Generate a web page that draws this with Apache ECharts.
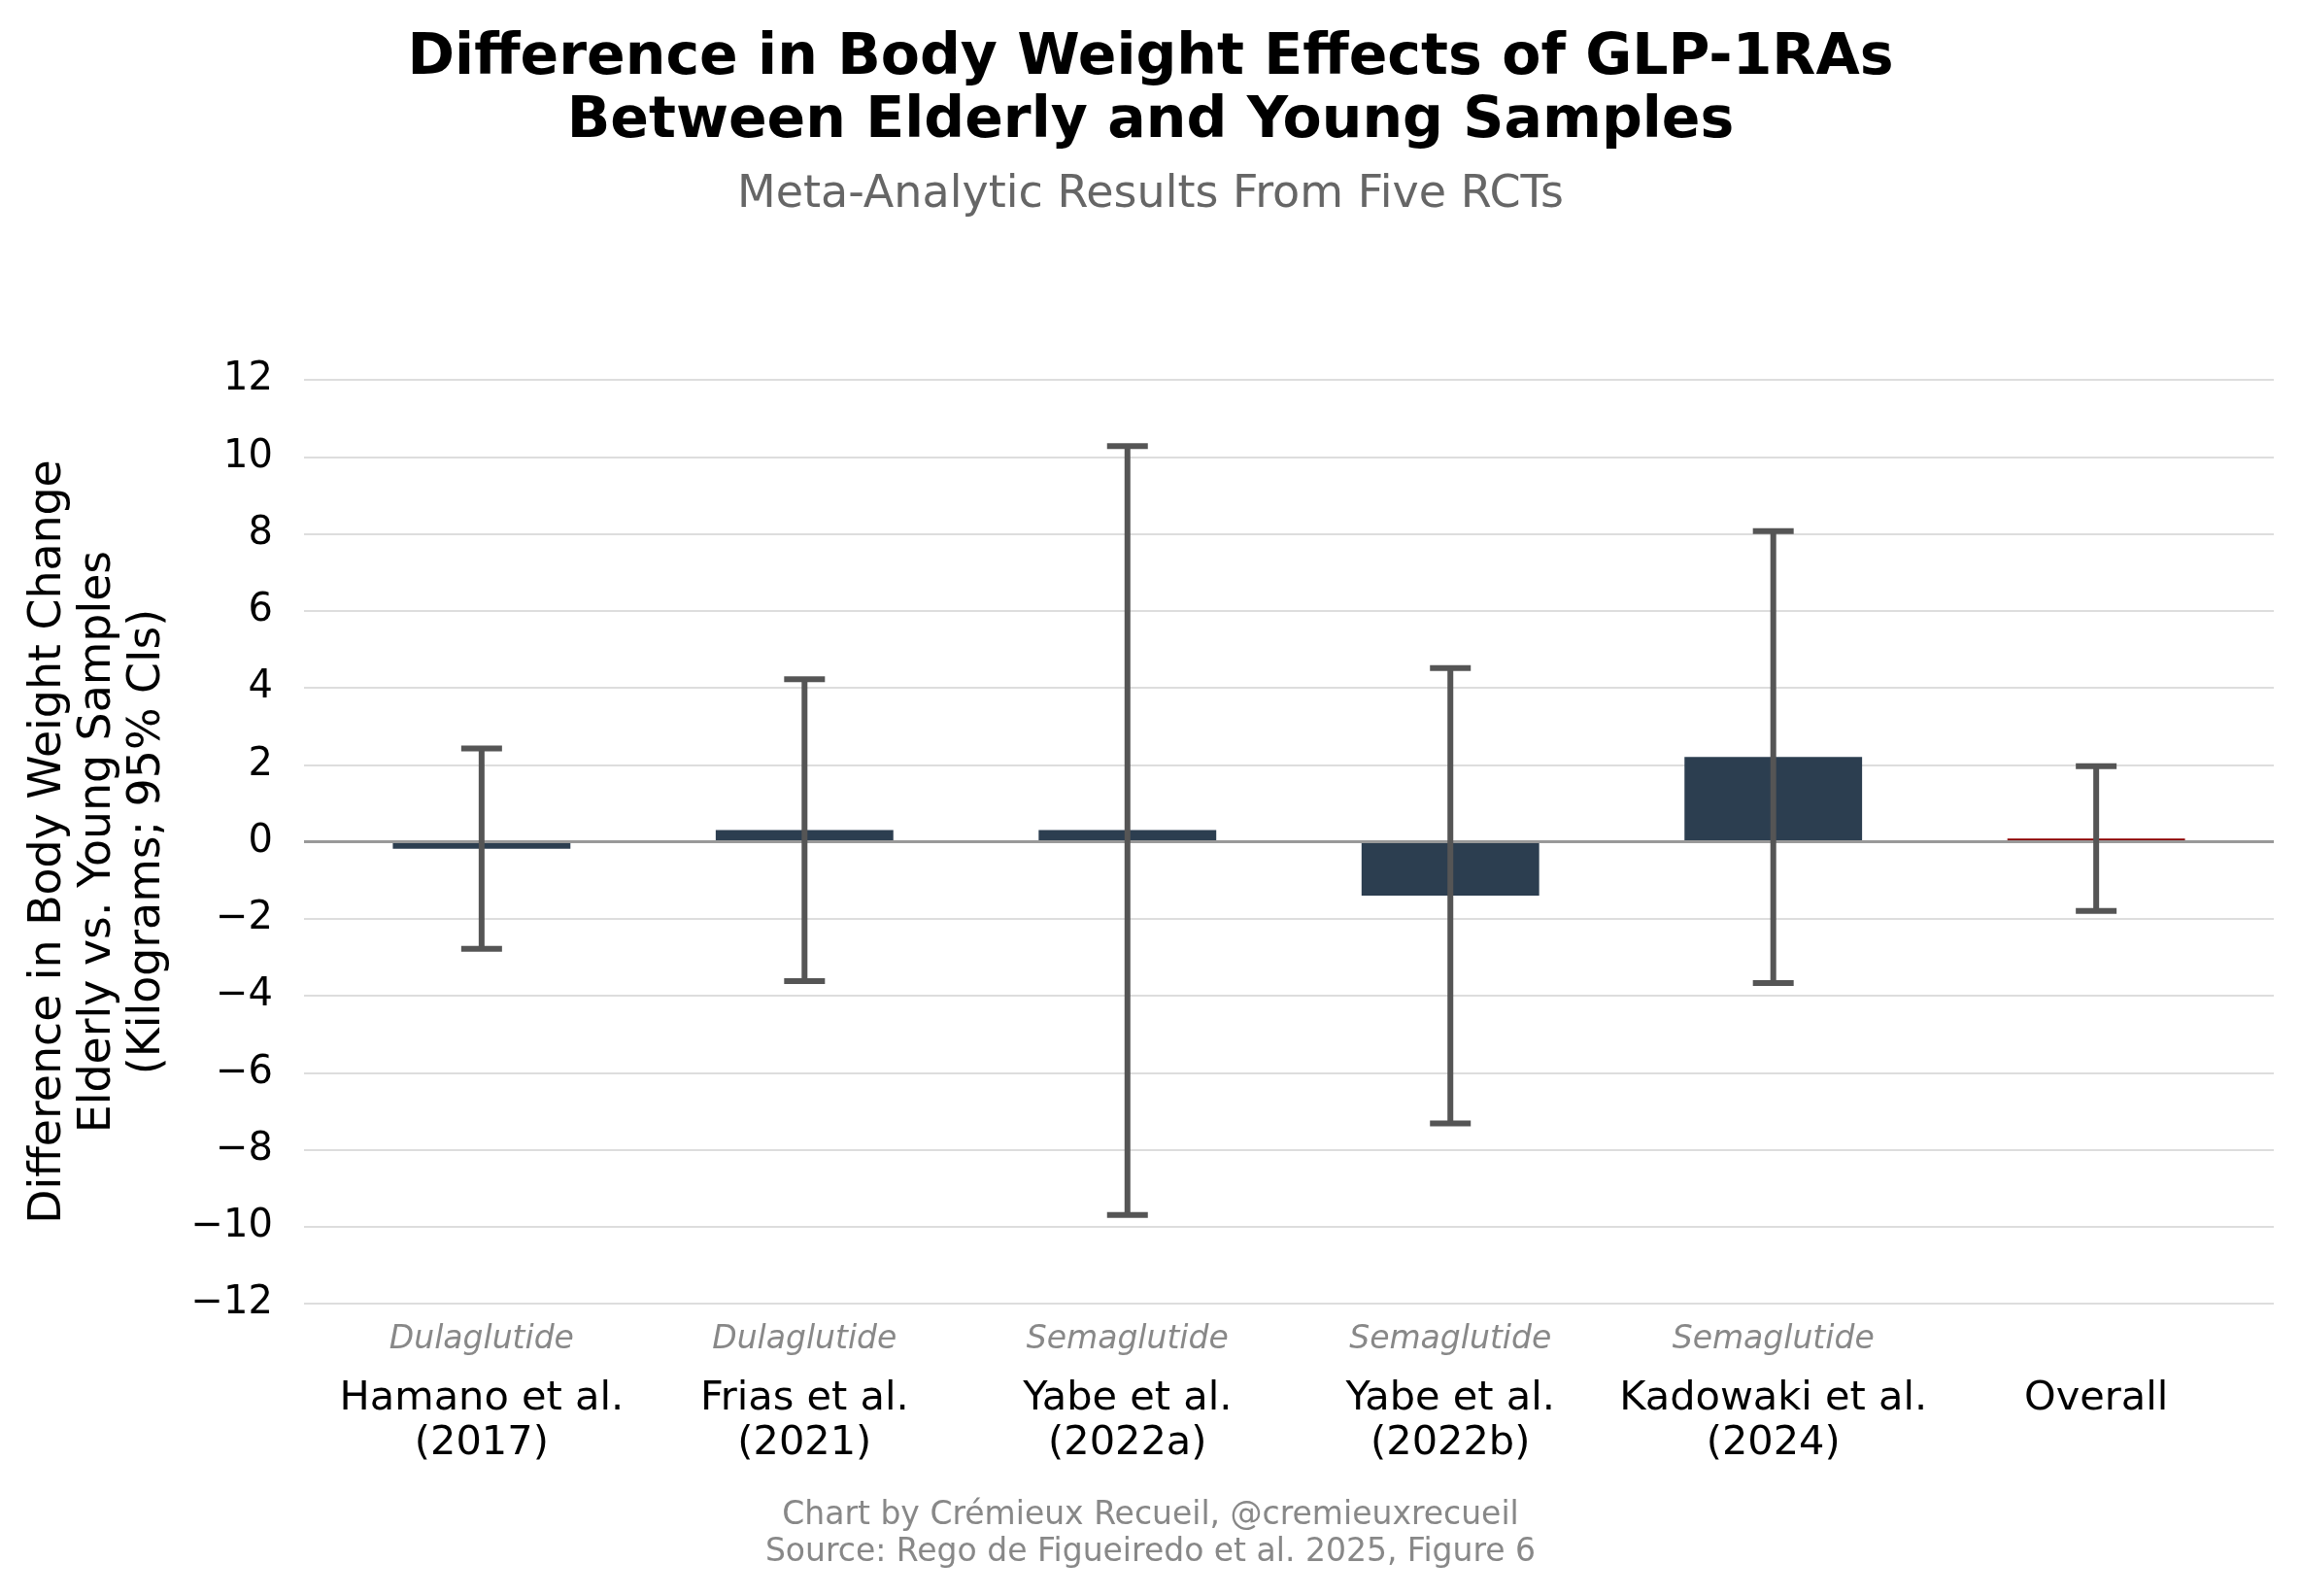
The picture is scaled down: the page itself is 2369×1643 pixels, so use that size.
<!DOCTYPE html>
<html>
<head>
<meta charset="utf-8">
<script src="https://cdn.jsdelivr.net/npm/echarts@6/dist/echarts.min.js"></script>
<style>
html,body{margin:0;padding:0;background:#fff;}
#chart{width:2369px;height:1643px;}
</style>
</head>
<body>
<div id="chart"></div>
<script>
// ---- data ----
const studies = ['Hamano et al.', 'Frias et al.', 'Yabe et al.', 'Yabe et al.', 'Kadowaki et al.', 'Overall'];
const years = ['(2017)', '(2021)', '(2022a)', '(2022b)', '(2024)', ''];
const drugs = ['Dulaglutide', 'Dulaglutide', 'Semaglutide', 'Semaglutide', 'Semaglutide', ''];
const estimates = [-0.18, 0.30, 0.30, -1.40, 2.20, 0.08];
const ciLow = [-2.78, -3.62, -9.70, -7.32, -3.67, -1.80];
const ciHigh = [2.42, 4.22, 10.28, 4.51, 8.07, 1.96];
const yTicks = [-12, -10, -8, -6, -4, -2, 0, 2, 4, 6, 8, 10, 12];

const FONT = 'DejaVu Sans';
const positions = studies.map((_, i) => i);
const barData = positions.map(i => [i, estimates[i]]);
const errData = positions.map(i => [i, ciLow[i], ciHigh[i]]);
const BAR_W = 0.55;

const chart = echarts.init(document.getElementById('chart'), null, {renderer: 'canvas'});
chart.setOption({
  animation: false,
  backgroundColor: '#ffffff',
  title: [
    {
      text: 'Difference in Body Weight Effects of GLP-1RAs\nBetween Elderly and Young Samples',
      subtext: 'Meta-Analytic Results From Five RCTs',
      left: 'center', top: 23, itemGap: 16,
      textStyle: {fontFamily: FONT, fontSize: 58.5, fontWeight: 'bold', color: '#000', lineHeight: 65},
      subtextStyle: {fontFamily: FONT, fontSize: 46, color: '#666666', lineHeight: 54}
    },
    {
      text: 'Chart by Crémieux Recueil, @cremieuxrecueil\nSource: Rego de Figueiredo et al. 2025, Figure 6',
      left: 'center', top: 1536,
      textStyle: {fontFamily: FONT, fontSize: 33, fontWeight: 'normal', color: '#888888', lineHeight: 38}
    }
  ],
  grid: {left: 313, right: 28, top: 391, bottom: 301, containLabel: false},
  xAxis: {
    type: 'value', min: -0.55, max: 5.55,
    axisLine: {show: false}, axisTick: {show: false}, splitLine: {show: false},
    axisLabel: {
      customValues: positions,
      margin: 0,
      formatter: function (v) {
        const i = Math.round(v);
        const d = drugs[i] || ' ';
        const y = years[i] || ' ';
        return '{drug|' + d + '}\n{name|' + studies[i] + '}\n{name|' + y + '}';
      },
      rich: {
        drug: {fontFamily: FONT, fontStyle: 'italic', fontSize: 33, color: '#888888', lineHeight: 75, align: 'center'},
        name: {fontFamily: FONT, fontSize: 41.5, color: '#000000', lineHeight: 46, align: 'center'}
      }
    }
  },
  yAxis: {
    type: 'value', min: -12, max: 12, interval: 2,
    axisLine: {show: false}, axisTick: {show: false},
    splitLine: {show: true, lineStyle: {color: '#dddddd', width: 2}},
    axisLabel: {
      fontFamily: FONT, fontSize: 40, color: '#000', margin: 32,
      padding: [6, 0, 0, 0],
      formatter: v => (v < 0 ? '\u2212' + Math.abs(v) : String(v))
    },
    name: 'Difference in Body Weight Change\nElderly vs. Young Samples\n(Kilograms; 95% CIs)',
    nameLocation: 'middle', nameRotate: 90, nameGap: 135,
    nameTextStyle: {fontFamily: FONT, fontSize: 45.8, color: '#000', lineHeight: 51, align: 'center'}
  },
  series: [
    {
      type: 'custom', name: 'bars', z: 2,
      data: barData,
      encode: {x: 0, y: 1},
      renderItem: function (params, api) {
        const x = api.value(0), v = api.value(1);
        const p0 = api.coord([x - BAR_W / 2, 0]);
        const p1 = api.coord([x + BAR_W / 2, v]);
        const isOverall = params.dataIndex === studies.length - 1;
        return {
          type: 'rect',
          shape: {x: p0[0], y: Math.min(p0[1], p1[1]), width: p1[0] - p0[0], height: Math.abs(p1[1] - p0[1])},
          style: {fill: isOverall ? '#8b0000' : '#2c3e50'}
        };
      }
    },
    {
      type: 'custom', name: 'zero', z: 3,
      data: [[0, 0]],
      encode: {x: 0, y: 1},
      renderItem: function (params, api) {
        const cs = params.coordSys;
        const y = api.coord([0, 0])[1];
        return {type: 'line', shape: {x1: cs.x, y1: y, x2: cs.x + cs.width, y2: y},
          style: {stroke: '#999999', lineWidth: 3}};
      }
    },
    {
      type: 'custom', name: 'ci', z: 4,
      data: errData,
      encode: {x: 0, y: [1, 2]},
      renderItem: function (params, api) {
        const x = api.value(0);
        const lo = api.coord([x, api.value(1)]);
        const hi = api.coord([x, api.value(2)]);
        const cap = 21;
        const st = {stroke: '#555555', lineWidth: 6};
        return {
          type: 'group',
          children: [
            {type: 'line', shape: {x1: lo[0], y1: lo[1], x2: hi[0], y2: hi[1]}, style: st},
            {type: 'line', shape: {x1: lo[0] - cap, y1: lo[1], x2: lo[0] + cap, y2: lo[1]}, style: st},
            {type: 'line', shape: {x1: hi[0] - cap, y1: hi[1], x2: hi[0] + cap, y2: hi[1]}, style: st}
          ]
        };
      }
    }
  ]
});
</script>
</body>
</html>
